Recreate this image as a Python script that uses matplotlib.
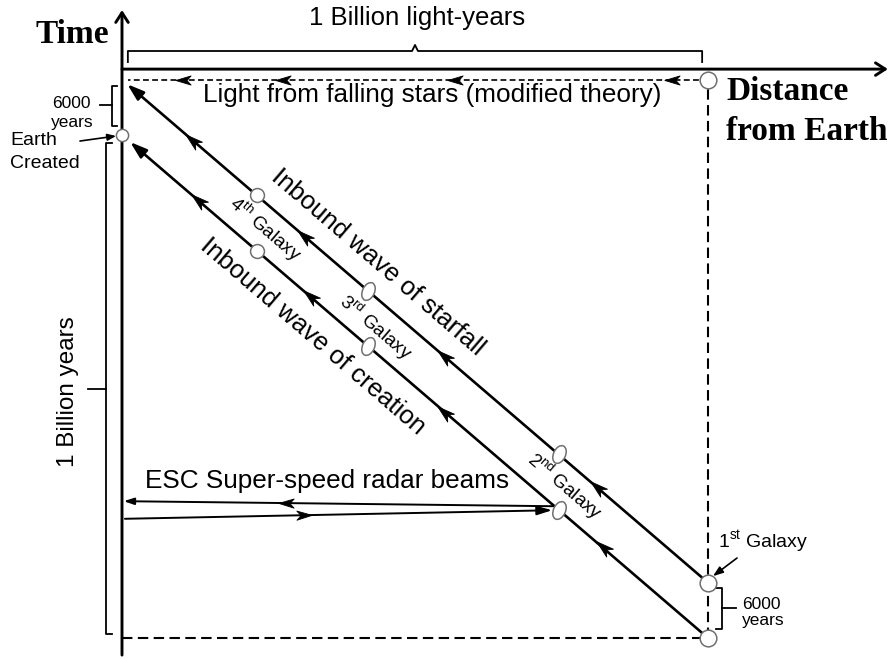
import numpy as np
import matplotlib.pyplot as plt
from matplotlib.markers import MarkerStyle
from matplotlib.path import Path
from matplotlib.transforms import Affine2D

plt.rcParams["font.family"] = "Liberation Sans"
plt.rcParams["mathtext.fontset"] = "custom"
plt.rcParams["mathtext.rm"] = "Liberation Sans"

# x = distance from Earth (billion light-years), y = time (billion years, 0 = first creation)
gap = 0.11                                  # "6000 years" between creation and starfall (not to scale)
galaxy_labels = [r"1$^{\mathrm{st}}$ Galaxy", r"2$^{\mathrm{nd}}$ Galaxy",
                 r"3$^{\mathrm{rd}}$ Galaxy", r"4$^{\mathrm{th}}$ Galaxy"]
galaxy_dist = [1.0, 0.745, 0.42, 0.23]
starfall_arrows = [0.12, 0.31, 0.55, 0.81]
creation_arrows = [0.13, 0.32, 0.55, 0.82]
light_arrows = [0.104, 0.275, 0.568, 0.939]
radar_out = [(0.005, 0.237), (0.734, 0.254)]
radar_back = [(0.735, 0.262), (0.003, 0.272)]
radar_out_mid = 0.31
radar_back_mid = 0.28

fig = plt.figure(figsize=(8.9, 6.59), dpi=100)
ax = fig.add_axes([0, 0, 1, 1])
ax.set_xlim(-122 / 586, 768 / 586)
ax.set_ylim(-21 / 503, 638 / 503)
ax.axis("off")


def disp_angle(p0, p1):
    a = ax.transData.transform([p0, p1])
    return np.degrees(np.arctan2(a[1, 1] - a[0, 1], a[1, 0] - a[0, 0]))


head = Path([(1, 0), (-1, 0.6), (-0.45, 0), (-1, -0.6), (1, 0)],
            [Path.MOVETO, Path.LINETO, Path.LINETO, Path.LINETO, Path.CLOSEPOLY])


def heads(xs, ys, angle, ms=10):
    ax.plot(xs, ys, ls="none", marker=MarkerStyle(head, transform=Affine2D().rotate_deg(angle)),
            ms=ms, color="black", mew=0.6, zorder=4)


def arrow(p_from, p_to, style, lw, color="black"):
    ax.annotate("", xy=p_to, xytext=p_from,
                arrowprops=dict(arrowstyle=style, lw=lw, color=color, shrinkA=0, shrinkB=0))


diag = disp_angle((1, 0), (0, 1))           # up-left along the waves
text_rot = diag - 180

# axes
arrow((0, -0.034), (0, 1.2485), "->,head_length=0.7,head_width=0.45", 2.1)
arrow((0, 1.131), (1.307, 1.131), "->,head_length=0.7,head_width=0.45", 2.1)

# dashed frame
ax.plot([0, 1], [0, 0], color="black", lw=1.5, dashes=(5, 2.6))
ax.plot([1, 1], [0, 1 + gap], color="black", lw=1.5, dashes=(5, 2.6))
ax.plot([1, 0.01], [1 + gap, 1 + gap], color="black", lw=1.2, dashes=(3.5, 2))
heads(light_arrows, [1 + gap] * len(light_arrows), 180, ms=11)

# inbound waves
arrow((1, gap), (0.009, gap + 0.991), "-|>,head_length=1.0,head_width=0.33", 1.9)
arrow((1, 0), (0.014, 0.986), "-|>,head_length=1.0,head_width=0.33", 1.9)
heads(starfall_arrows, [1 + gap - x for x in starfall_arrows], diag, ms=12.5)
heads(creation_arrows, [1 - x for x in creation_arrows], diag, ms=12.5)

# radar beams
arrow(radar_out[0], radar_out[1], "-|>,head_length=0.9,head_width=0.27", 1.4)
arrow(radar_back[0], radar_back[1], "-|>,head_length=0.6,head_width=0.2", 1.4)
t = (radar_out_mid - radar_out[0][0]) / (radar_out[1][0] - radar_out[0][0])
heads([radar_out_mid], [radar_out[0][1] + t * (radar_out[1][1] - radar_out[0][1])],
      disp_angle(*radar_out), ms=11)
t = (radar_back_mid - radar_back[0][0]) / (radar_back[1][0] - radar_back[0][0])
heads([radar_back_mid], [radar_back[0][1] + t * (radar_back[1][1] - radar_back[0][1])],
      disp_angle(*radar_back), ms=11)

# galaxies and Earth
circ = dict(ls="none", marker="o", mfc="white", mec="#707070", mew=1.1, zorder=5)
ax.plot([0], [1], ms=8.8, **circ)
ax.plot([1, 1, 1], [0, gap, 1 + gap], ms=12, **circ)
ax.plot([galaxy_dist[3]] * 2, [1 - galaxy_dist[3], 1 + gap - galaxy_dist[3]], ms=10, **circ)
ell = dict(circ)
ell["marker"] = MarkerStyle("o", transform=Affine2D().scale(0.64, 1).rotate_deg(-25))
for d in galaxy_dist[1:3]:
    ax.plot([d, d], [1 - d, 1 + gap - d], ms=13.5, **ell)

# brackets
bk = dict(color="black", lw=1.3)
ax.plot([0.01, 0.01, 0.495, 0.5, 0.505, 0.99, 0.99],
        [1.145, 1.167, 1.167, 1.179, 1.167, 1.167, 1.145], **bk)
ax.plot([-0.017, -0.027, -0.027, -0.017], [0.984, 0.984, 0.008, 0.008], **bk)
ax.plot([-0.027, -0.058], [0.495, 0.495], **bk)
ax.plot([-0.0085, -0.017, -0.017, -0.0085], [1.097, 1.097, 1.018, 1.018], **bk)
ax.plot([-0.017, -0.0375], [1.060, 1.060], **bk)
ax.plot([1.0137, 1.0239, 1.0239, 1.0137], [0.0994, 0.0994, 0.0179, 0.0179], **bk)
ax.plot([1.0239, 1.0478], [0.0596, 0.0596], **bk)

# pointer arrows
arrow((-0.0717, 0.988), (-0.0102, 0.998), "-|>,head_length=0.5,head_width=0.2", 1.2)
arrow((1.0495, 0.159), (1.0085, 0.123), "-|>,head_length=0.6,head_width=0.22", 1.2)

# texts
serif = dict(family="Liberation Serif", weight="bold", fontsize=24)
ax.text(-0.085, 1.200, "Time", ha="center", va="center", **serif)
ax.text(1.031, 1.0696, "Distance", ha="left", va="baseline", **serif)
ax.text(1.031, 0.990, "from Earth", ha="left", va="baseline", **serif)

ax.text(0.503, 1.2187, "1 Billion light-years", ha="center", va="baseline", fontsize=18.5)
ax.text(0.530, 1.0656, "Light from falling stars (modified theory)", ha="center", va="baseline", fontsize=18.8)
ax.text(0.350, 0.298, "ESC Super-speed radar beams", ha="center", va="baseline", fontsize=18.8)
ax.text(-0.092, 0.489, "1 Billion years", ha="center", va="center", rotation=90, fontsize=17.5)

ax.text(-0.191, 0.980, "Earth", ha="left", va="baseline", fontsize=14)
ax.text(-0.191, 0.934, "Created", ha="left", va="baseline", fontsize=14)
ax.text(-0.087, 1.0537, "6000", ha="center", va="baseline", fontsize=12.5)
ax.text(-0.085, 1.016, "years", ha="center", va="baseline", fontsize=12.5)
ax.text(1.058, 0.0577, "6000", ha="left", va="baseline", fontsize=12.5)
ax.text(1.058, 0.026, "years", ha="left", va="baseline", fontsize=12.5)
ax.text(1.017, 0.179, galaxy_labels[0], ha="left", va="baseline", fontsize=14)

rot = dict(rotation=text_rot, rotation_mode="anchor", ha="center", va="center")
ax.text(0.437, 0.7475, "Inbound wave of starfall", fontsize=18.5, **rot)
ax.text(0.326, 0.600, "Inbound wave of creation", fontsize=18.5, **rot)
ax.text(0.756, 0.302, galaxy_labels[1], fontsize=13.5, **rot)
ax.text(0.433, 0.618, galaxy_labels[2], fontsize=13.5, **rot)
ax.text(0.244, 0.813, galaxy_labels[3], fontsize=13.5, **rot)

fig.savefig("out.png", dpi=100, facecolor="white")
